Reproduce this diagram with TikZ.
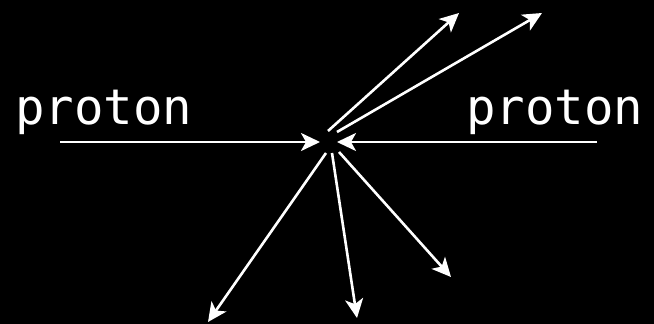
\documentclass[tikz,border=0pt]{standalone}
\usepackage{fontspec}
\setmonofont{DejaVu Sans Mono}
\usepackage{tikz}
\usetikzlibrary{arrows.meta}

\begin{document}
\begin{tikzpicture}[
  x=1pt, y=-1pt,
  beam/.style={line width=2.6pt, white, -{Stealth[length=19pt, width=18pt, inset=5pt]}},
  label/.style={text=white, inner sep=0pt, anchor=base west,
                font=\ttfamily\fontsize{49}{49}\selectfont},
]

\fill[black] (0,0) rectangle (654,324);

\node[label] (pleft) at (15,124) {proton};
\node[label] (pright) at (466,124) {proton};

% incoming beams
\coordinate (inL) at (60,142);
\coordinate (inR) at (597,142);
\coordinate (hitL) at (320,142);
\coordinate (hitR) at (337,142);

\draw[beam] (inL) -- (hitL);
\draw[beam] (inR) -- (hitR);

% outgoing tracks
\coordinate (s1) at (328,131);
\coordinate (s2) at (337,132);
\coordinate (s3) at (326,153);
\coordinate (s4) at (332,153);
\coordinate (s5) at (339,152);
\coordinate (e1) at (459,13);
\coordinate (e2) at (542,13);
\coordinate (e3) at (208,322);
\coordinate (e4) at (357,318);
\coordinate (e5) at (451,277);

\draw[beam] (s1) -- (e1);
\draw[beam] (s2) -- (e2);
\draw[beam] (s3) -- (e3);
\draw[beam] (s4) -- (e4);
\draw[beam] (s5) -- (e5);

\end{tikzpicture}
\end{document}
